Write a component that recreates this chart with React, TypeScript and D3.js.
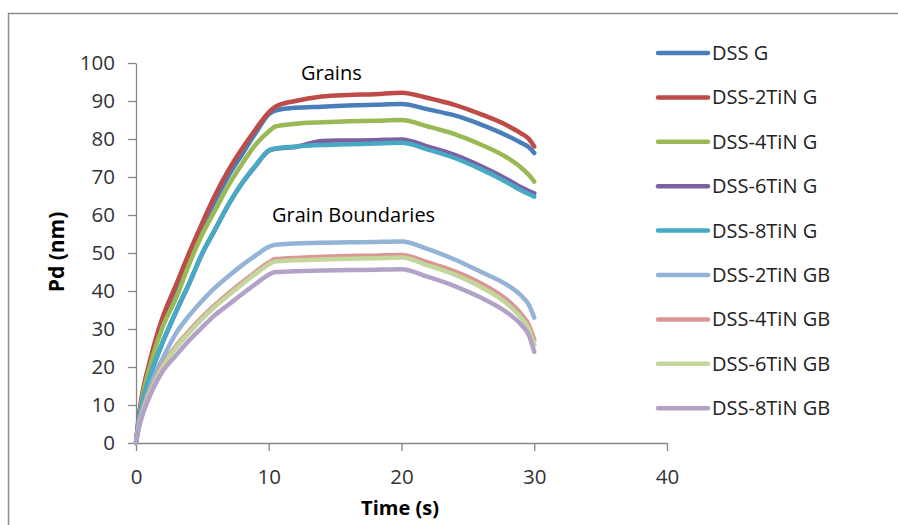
import React, { useEffect, useRef } from 'react';
import * as d3 from 'd3';

const time = [0, 0.25, 0.5, 1, 1.5, 2, 3, 4, 5, 6, 7, 8, 9, 10, 10.5, 12, 14, 16, 18, 20, 22, 24, 26, 28, 29, 29.6, 30];

const dssG = [0, 7.5, 13, 20, 26.5, 32, 40.5, 49, 57, 64, 70.5, 76, 81.5, 86.5, 87.5, 88.2, 88.5, 88.8, 89, 89.2, 87.8, 86.2, 83.8, 80.8, 79, 77.8, 76.3];
const dss2G = [0, 8, 13.5, 21, 27.5, 33, 41.5, 50, 58, 65.5, 72, 77.5, 82.5, 87, 88.5, 90, 91.2, 91.6, 91.8, 92.2, 90.8, 89, 86.5, 83.5, 81.5, 80, 78];
const dss4G = [0, 7, 12.5, 19.5, 25.5, 30.5, 38, 47, 55, 61.5, 68, 73.5, 78.5, 82, 83.3, 84, 84.4, 84.7, 84.8, 85, 83.3, 81.3, 78.5, 75, 72.5, 70.5, 68.8];
const dss6G = [0, 6.4, 10.9, 16.9, 21.9, 26.4, 34.4, 41.9, 49.9, 56.4, 62.9, 68.4, 72.9, 76.9, 77.4, 77.9, 79.5, 79.6, 79.7, 79.9, 78, 75.8, 72.8, 69.3, 67.3, 66.3, 65.7];
const dss8G = [0, 6.5, 11, 17, 22, 26.5, 34.5, 42, 50, 56.5, 63, 68.5, 73, 77, 77.5, 78, 78.4, 78.6, 78.8, 79, 77.2, 75, 72, 68.5, 66.5, 65.5, 64.8];
const dss2GB = [0, 5.8, 9, 14, 18.5, 22.2, 28.8, 33.5, 37.5, 41, 44, 46.8, 49.3, 51.6, 52.2, 52.5, 52.7, 52.8, 52.9, 53, 51, 48.3, 45, 41.5, 38.8, 36.3, 33];
const dss4GB = [0, 5, 8.3, 13.2, 17.2, 20.5, 25.5, 29.5, 33.2, 36.5, 39.5, 42.3, 45, 47.5, 48.4, 48.7, 49, 49.2, 49.3, 49.5, 47.5, 45.2, 42, 37.5, 34, 31, 27.2];
const dss6GB = [0, 4.8, 8, 12.8, 16.7, 20, 25, 29, 32.7, 36, 39, 41.8, 44.5, 47, 47.8, 48.1, 48.3, 48.5, 48.6, 48.8, 46.7, 44.3, 41, 36.5, 33, 30, 25.8];
const dss8GB = [0, 4.5, 7.5, 12, 15.8, 18.8, 23, 27, 30.5, 33.8, 36.5, 39.2, 41.8, 44.3, 45, 45.2, 45.4, 45.5, 45.6, 45.7, 43.7, 41.3, 38.2, 34.2, 31.2, 28.3, 24];

const seriesNames = ['DSS G', 'DSS-2TiN G', 'DSS-4TiN G', 'DSS-6TiN G', 'DSS-8TiN G', 'DSS-2TiN GB', 'DSS-4TiN GB', 'DSS-6TiN GB', 'DSS-8TiN GB'];
const seriesValues = [dssG, dss2G, dss4G, dss6G, dss8G, dss2GB, dss4GB, dss6GB, dss8GB];
const colors = ['#4a7ebb', '#be4b48', '#98b954', '#7d60a0', '#46aac5', '#93b3d7', '#d99694', '#c3d69b', '#b3a2c7'];

const xTicks = [0, 10, 20, 30, 40];
const yTicks = [0, 10, 20, 30, 40, 50, 60, 70, 80, 90, 100];

const W = 898;
const H = 525;
const FONT = '"Open Sans", "Noto Sans", sans-serif';

const App = () => {
  const ref = useRef<SVGSVGElement>(null);

  useEffect(() => {
    const svg = d3.select(ref.current);
    svg.selectAll('*').remove();

    svg.append('rect').attr('width', W).attr('height', H).attr('fill', '#fff');
    // outer chart frame
    svg.append('rect')
      .attr('x', 8.5).attr('y', 13.5)
      .attr('width', W + 20).attr('height', H + 20)
      .attr('fill', 'none').attr('stroke', '#8c8c8c').attr('stroke-width', 1.5);

    const x = d3.scaleLinear().domain([0, 40]).range([136, 667]);
    const y = d3.scaleLinear().domain([0, 100]).range([443, 63]);

    const yAxis = svg.append('g')
      .attr('transform', 'translate(136,0)')
      .call(d3.axisLeft(y).tickValues(yTicks).tickSize(8).tickSizeOuter(0).tickPadding(13));
    const xAxis = svg.append('g')
      .attr('transform', 'translate(0,443)')
      .call(d3.axisBottom(x).tickValues(xTicks).tickSize(8).tickSizeOuter(0).tickPadding(18));

    [yAxis, xAxis].forEach((g) => {
      g.selectAll('path, line').attr('stroke', '#868686').attr('stroke-width', 1.3);
      g.selectAll('text').attr('fill', '#333').style('font-family', FONT).style('font-size', '20.5px');
    });

    const line = d3.line<number>()
      .x((_, i) => x(time[i]))
      .y((d) => y(d))
      .curve(d3.curveMonotoneX);

    seriesValues.forEach((vals, i) => {
      svg.append('path')
        .datum(vals)
        .attr('fill', 'none')
        .attr('stroke', colors[i])
        .attr('stroke-width', 4.5)
        .attr('stroke-linecap', 'round')
        .attr('stroke-linejoin', 'round')
        .attr('d', line);
    });

    // annotations
    svg.append('text').attr('x', 301).attr('y', 80).text('Grains')
      .style('font-family', FONT).style('font-size', '20px').attr('fill', '#000');
    svg.append('text').attr('x', 272).attr('y', 222).text('Grain Boundaries')
      .style('font-family', FONT).style('font-size', '20px').attr('fill', '#000');

    // axis titles
    svg.append('text').attr('x', 400).attr('y', 515).attr('text-anchor', 'middle').text('Time (s)')
      .style('font-family', FONT).style('font-size', '20px').style('font-weight', 'bold');
    svg.append('text')
      .attr('transform', 'translate(64,252) rotate(-90)')
      .attr('text-anchor', 'middle').text('Pd (nm)')
      .style('font-family', FONT).style('font-size', '21px').style('font-weight', 'bold');

    // legend
    const legend = svg.append('g');
    seriesNames.forEach((name, i) => {
      const ly = 53 + i * 44.4;
      legend.append('line')
        .attr('x1', 658).attr('x2', 708).attr('y1', ly).attr('y2', ly)
        .attr('stroke', colors[i]).attr('stroke-width', 4.5).attr('stroke-linecap', 'round');
      legend.append('text')
        .attr('x', 712).attr('y', ly).attr('dy', '0.35em').text(name)
        .attr('fill', '#222')
        .style('font-family', FONT).style('font-size', '20px');
    });
  }, []);

  return (
    <svg ref={ref} width={W} height={H} style={{ position: 'absolute', left: 0, top: 0 }} />
  );
};

export default App;
